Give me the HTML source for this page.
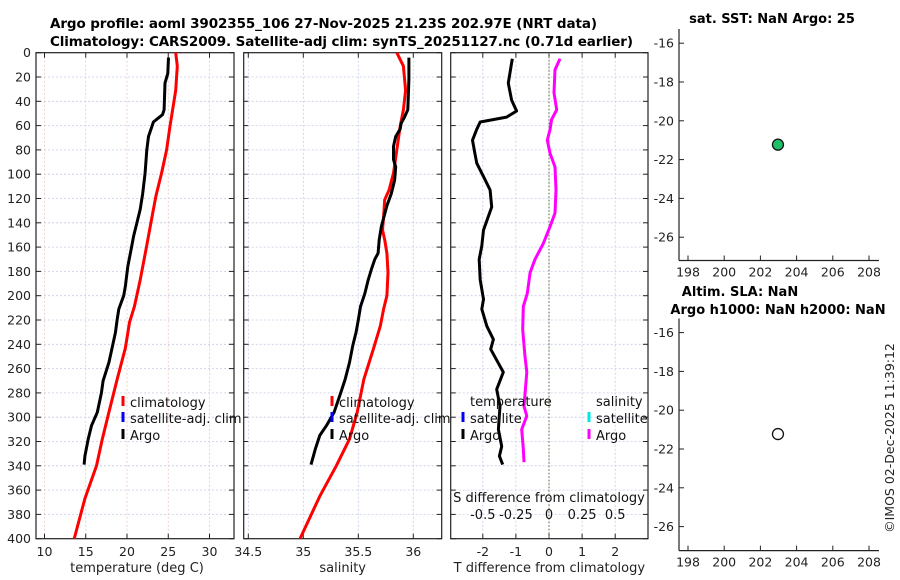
<!DOCTYPE html>
<html><head><meta charset="utf-8"><style>
html,body{margin:0;padding:0;background:#fff;}
svg{display:block;font-family:"DejaVu Sans","Liberation Sans",sans-serif;}
</style></head><body>
<svg id="fig" width="900" height="580" viewBox="0 0 900 580" xmlns="http://www.w3.org/2000/svg">
<rect width="900" height="580" fill="#fff"/>
<text x="50" y="28" font-size="13.5" font-weight="bold" textLength="547">Argo profile: aoml 3902355_106 27-Nov-2025 21.23S 202.97E (NRT data)</text>
<text x="50" y="46" font-size="13.5" font-weight="bold" textLength="583">Climatology: CARS2009. Satellite-adj clim: synTS_20251127.nc (0.71d earlier)</text>
<text x="772" y="23" font-size="13" font-weight="bold" text-anchor="middle">sat. SST: NaN Argo: 25</text>
<text x="740" y="296" font-size="13" font-weight="bold" text-anchor="middle">Altim. SLA: NaN</text>
<text x="778" y="314" font-size="13" font-weight="bold" text-anchor="middle">Argo h1000: NaN h2000: NaN</text>
<text transform="translate(894,438) rotate(-90)" font-size="12.5" text-anchor="middle" fill="#222">©IMOS 02-Dec-2025 11:39:12</text>
<g id="plots"></g>
</svg>
<script>
// ---- data ----
const tempArgoDepth = [4,17,25,47,51,57,61,69,80,99,116,129,140,151,162,176,192,200,211,220,230,243,255,270,280,296,307,318,332,339];
const tempArgo = [25.03,24.95,24.6,24.5,24.3,23.2,23.0,22.6,22.4,22.2,21.9,21.6,21.2,20.8,20.5,20.1,19.8,19.6,19.0,18.8,18.6,18.2,17.8,17.1,16.9,16.4,15.7,15.3,14.9,14.8];
const tempClimDepth = [0,11,31,44,61,80,99,118,140,162,187,209,222,243,269,296,318,340,367,400];
const tempClim = [25.9,26.1,25.9,25.6,25.2,24.8,24.2,23.5,22.9,22.3,21.6,20.9,20.3,19.8,18.8,17.8,17.0,16.3,14.9,13.6];
const salArgoDepth = [4,22,47,53,58,63,69,77,88,94,105,116,126,143,154,165,170,178,187,198,209,220,230,241,255,269,280,296,307,315,326,339];
const salArgo = [35.96,35.96,35.95,35.92,35.89,35.88,35.84,35.82,35.82,35.84,35.83,35.80,35.76,35.71,35.69,35.68,35.65,35.62,35.59,35.56,35.52,35.50,35.48,35.45,35.42,35.38,35.34,35.28,35.21,35.15,35.11,35.07];
const salClimDepth = [0,11,31,47,61,80,99,113,121,135,146,154,165,181,200,211,225,243,269,296,318,340,365,400];
const salClim = [35.85,35.91,35.93,35.91,35.88,35.85,35.82,35.78,35.74,35.73,35.72,35.74,35.76,35.77,35.76,35.73,35.70,35.64,35.55,35.49,35.42,35.30,35.15,34.97];
const tDiffDepth = [5,17,25,39,48,53,57,63,72,83,91,102,113,127,146,159,170,187,203,211,225,236,244,263,277,291,310,324,332,339];
const tDiff = [-1.11,-1.18,-1.23,-1.13,-0.98,-1.28,-2.08,-2.18,-2.31,-2.24,-2.18,-1.98,-1.78,-1.73,-1.98,-2.03,-2.11,-2.08,-1.98,-2.03,-1.88,-1.68,-1.76,-1.38,-1.58,-1.48,-1.53,-1.43,-1.50,-1.40];
const sDiffDepth = [5,14,33,47,55,63,72,83,94,113,132,143,157,170,181,198,209,228,250,263,291,299,310,326,337];
const sDiff = [0.083,0.045,0.038,0.058,0.02,0.008,-0.013,0.008,0.045,0.053,0.045,0.008,-0.043,-0.106,-0.143,-0.164,-0.194,-0.199,-0.181,-0.168,-0.189,-0.168,-0.206,-0.194,-0.189];
const depthTicks = [0,20,40,60,80,100,120,140,160,180,200,220,240,260,280,300,320,340,360,380,400];
const tempTicks = [10,15,20,25,30];
const salTicks = [34.5,35,35.5,36];
const salTickLabels = ["34.5","35","35.5","36"];
const tDiffTicks = [-2,-1,0,1,2];
const sDiffTicks = [-0.5,-0.25,0,0.25,0.5];
const sDiffTickLabels = ["-0.5","-0.25","0","0.25","0.5"];
const lonTicks = [198,200,202,204,206,208];
const latTicks = [-16,-18,-20,-22,-24,-26];
const floatLon = [202.97];
const floatLat = [-21.23];

// ---- helpers ----
const NS = "http://www.w3.org/2000/svg";
const root = document.getElementById('plots');
function mk(tag, attrs, parent, txt) {
  const e = document.createElementNS(NS, tag);
  for (const k in attrs) e.setAttribute(k, attrs[k]);
  if (txt !== undefined) e.textContent = txt;
  (parent || root).appendChild(e);
  return e;
}
const Y0 = 52.7, Y1 = 538.7;
const yD = d => Y0 + d * (Y1 - Y0) / 400;
const xT = t => 44.5 + (t - 10) * 8.25;
const xS = s => 248.3 + (s - 34.5) * 110;
const xTD = t => 549 + t * 33.1;
const xSD = s => 549 + s * 132.4;

function panel(name, L, R, xticks, xlabels, xfun, ylabels, xtitle, gridColor) {
  const g = mk('g', {});
  
  
  for (const d of depthTicks) {
    const y = yD(d);
    const gl = mk('line', {x1:L, x2:R, y1:y, y2:y, stroke:'#c5cbe6', 'stroke-width':0.8, 'stroke-dasharray':'2,2'}, g);
    
    
    mk('line', {x1:L, x2:L+5, y1:y, y2:y, stroke:'#222', 'stroke-width':1}, g);
    mk('line', {x1:R-5, x2:R, y1:y, y2:y, stroke:'#222', 'stroke-width':1}, g);
    if (ylabels) {
      const t = mk('text', {x:L-5, y:y+4.5, 'font-size':12.5, 'text-anchor':'end', fill:'#222'}, g, String(d));
      
      
    }
  }
  xticks.forEach((v, i) => {
    const x = xfun(v);
    const gl = mk('line', {x1:x, x2:x, y1:Y0, y2:Y1, stroke:gridColor, 'stroke-width':0.8, 'stroke-dasharray':'2,2'}, g);
    
    
    mk('line', {x1:x, x2:x, y1:Y1-5, y2:Y1, stroke:'#222'}, g);
    mk('line', {x1:x, x2:x, y1:Y0, y2:Y0+5, stroke:'#222'}, g);
    const t = mk('text', {x:x, y:556, 'font-size':12.5, 'text-anchor':'middle', fill:'#222'}, g, xlabels[i]);
    
    
  });
  mk('rect', {x:L, y:Y0, width:R-L, height:Y1-Y0, fill:'none', stroke:'#222', 'stroke-width':1.2}, g);
  const tt = mk('text', {x:(L+R)/2+(name==='temperature-panel'?2:0), y:572, 'font-size':13, 'text-anchor':'middle', fill:'#222'}, g, xtitle);
  
  
  return g;
}
function line(g, name, xs, ds, xfun, color) {
  const pts = xs.map((v, i) => xfun(v).toFixed(1) + ',' + yD(ds[i]).toFixed(1)).join(' ');
  const p = mk('polyline', {points:pts, fill:'none', stroke:color, 'stroke-width':3, 'stroke-linejoin':'round'}, g);
  
  
}
function legend(g, name, x, y, color, label) {
  const lg = mk('g', {}, g);
  
  
  mk('line', {x1:x, x2:x, y1:y-10, y2:y, stroke:color, 'stroke-width':3}, lg);
  mk('text', {x:x+7, y:y+1, 'font-size':13, fill:'#111'}, lg, label);
}

// Panel 1: temperature
const p1 = panel('temperature-panel', 36, 234, tempTicks, tempTicks.map(String), xT, true, 'temperature (deg C)', '#e8c8c0');
line(p1, 'temperature-climatology-line', tempClim, tempClimDepth, xT, '#ff0000');
line(p1, 'temperature-argo-line', tempArgo, tempArgoDepth, xT, '#000');
legend(p1, 'legend-climatology', 123, 406, '#ff0000', 'climatology');
legend(p1, 'legend-satellite-adj', 123, 422, '#0000ff', 'satellite-adj. clim');
legend(p1, 'legend-argo', 123, 439, '#000', 'Argo');

// Panel 2: salinity
const p2 = panel('salinity-panel', 243.7, 441.7, salTicks, salTickLabels, xS, false, 'salinity', '#c5cbe6');
line(p2, 'salinity-climatology-line', salClim, salClimDepth, xS, '#ff0000');
line(p2, 'salinity-argo-line', salArgo, salArgoDepth, xS, '#000');
legend(p2, 'legend-climatology', 332, 406, '#ff0000', 'climatology');
legend(p2, 'legend-satellite-adj', 332, 422, '#0000ff', 'satellite-adj. clim');
legend(p2, 'legend-argo', 332, 439, '#000', 'Argo');

// Panel 3: differences
const p3 = panel('difference-panel', 450.7, 648, tDiffTicks, tDiffTicks.map(String), xTD, false, 'T difference from climatology', '#c5cbe6');
mk('line', {x1:549, x2:549, y1:Y0, y2:Y1, stroke:'#556b2f', 'stroke-width':1, 'stroke-dasharray':'1.5,2'}, p3);
line(p3, 'salinity-difference-line', sDiff, sDiffDepth, xSD, '#ff00ff');
line(p3, 'temperature-difference-line', tDiff, tDiffDepth, xTD, '#000');
mk('text', {x:470, y:406, 'font-size':13, fill:'#111'}, p3, 'temperature');
mk('text', {x:596, y:406, 'font-size':13, fill:'#111'}, p3, 'salinity');
legend(p3, 'legend-temp-satellite', 463, 422, '#0000ff', 'satellite');
legend(p3, 'legend-temp-argo', 463, 439, '#000', 'Argo');
legend(p3, 'legend-sal-satellite', 589, 422, '#00e5e5', 'satellite');
legend(p3, 'legend-sal-argo', 589, 439, '#ff00ff', 'Argo');
const st = mk('text', {x:549, y:502, 'font-size':13, 'text-anchor':'middle', fill:'#111'}, p3, 'S difference from climatology');


sDiffTicks.forEach((v, i) => {
  const t = mk('text', {x:xSD(v), y:519, 'font-size':13, 'text-anchor':'middle', fill:'#111'}, p3, sDiffTickLabels[i]);
  
  
});

// Map panels
const xLon = lon => 688 + (lon - 198) * 18.1;
function mapPanel(name, top, bottom, yNeg16, fillColor) {
  const g = mk('g', {});
  
  
  const yLat = lat => yNeg16 + (-16 - lat) * 19.4;
  mk('line', {x1:679, x2:679, y1:top, y2:bottom, stroke:'#222', 'stroke-width':1.2}, g);
  mk('line', {x1:679, x2:879, y1:bottom, y2:bottom, stroke:'#222', 'stroke-width':1.2}, g);
  latTicks.forEach(v => {
    const y = yLat(v);
    mk('line', {x1:679, x2:684, y1:y, y2:y, stroke:'#222'}, g);
    const t = mk('text', {x:674, y:y+4.5, 'font-size':12.5, 'text-anchor':'end', fill:'#222'}, g, String(v));
    
    
  });
  lonTicks.forEach(v => {
    const x = xLon(v);
    mk('line', {x1:x, x2:x, y1:bottom-5, y2:bottom, stroke:'#222'}, g);
    const t = mk('text', {x:x, y:bottom+16, 'font-size':12.5, 'text-anchor':'middle', fill:'#222'}, g, String(v));
    
    
  });
  floatLon.forEach((lon, i) => {
    const c = mk('circle', {cx:xLon(lon), cy:yLat(floatLat[i]), r:5.5, fill:fillColor, stroke:'#111', 'stroke-width':1.3}, g);
    
    
  });
}
mapPanel('sst-map-panel', 29, 260.5, 43.2, '#1fbf6a');
mapPanel('sla-map-panel', 318.5, 550.6, 332.6, '#fff');
</script>
</body></html>
